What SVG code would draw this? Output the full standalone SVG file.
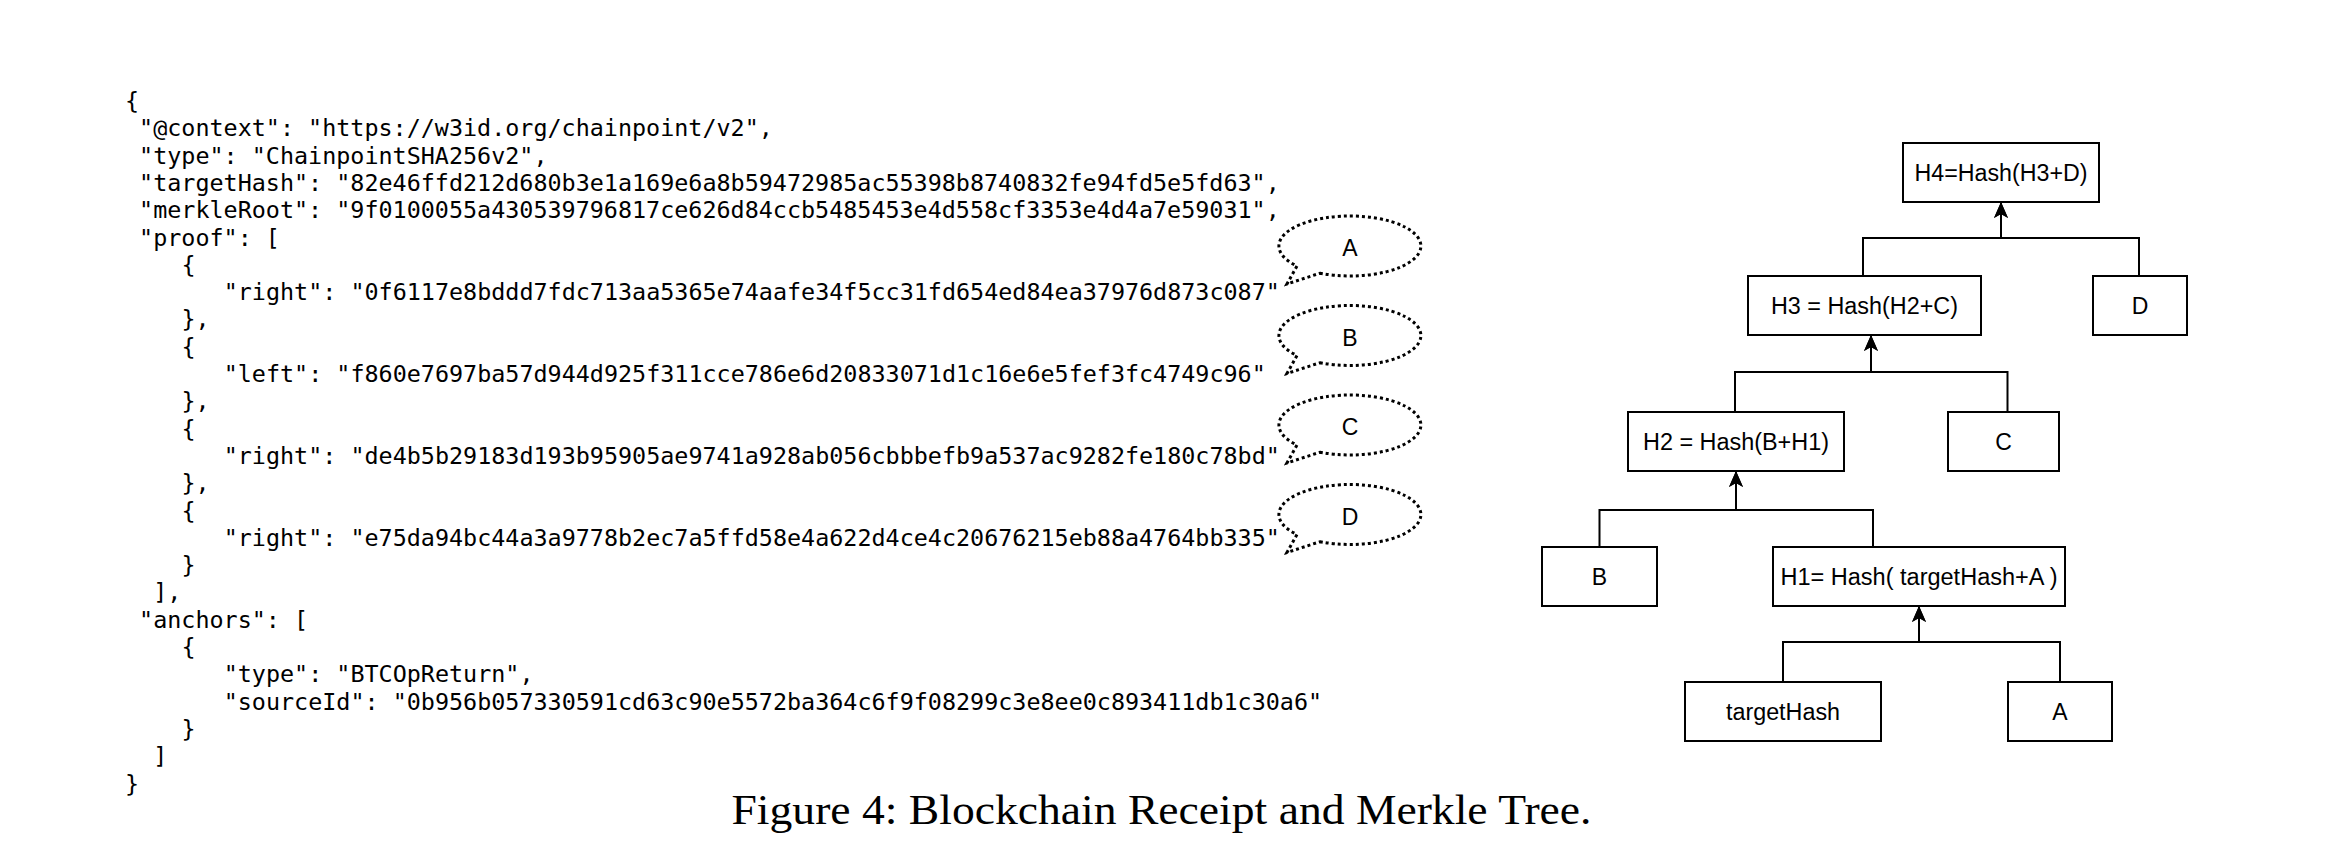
<svg xmlns="http://www.w3.org/2000/svg" width="2348" height="854" viewBox="0 0 2348 854">
<style>
.code{font-family:"DejaVu Sans Mono","Liberation Mono",monospace;font-size:23.4px;fill:#000}
.box{fill:#fff;stroke:#000;stroke-width:2}
.lbl{font-family:"Liberation Sans",Arial,sans-serif;font-size:23px;fill:#000;text-anchor:middle}
.edge{fill:none;stroke:#000;stroke-width:2}
.bubble{fill:#fff;stroke:#000;stroke-width:3;stroke-dasharray:3 3}
.cap{font-family:"Liberation Serif","Times New Roman",serif;font-size:43px;fill:#000}
</style>
<defs>
<marker id="arr" markerUnits="userSpaceOnUse" markerWidth="18" markerHeight="16" refX="16" refY="7" orient="auto">
<path d="M0,0 L16,7 L0,14 L4,7 z" fill="#000"/>
</marker>
</defs>
<rect width="2348" height="854" fill="#fff"/>

<g id="receipt" class="code">
<text x="125" y="109">{</text>
<text x="139.1" y="136.3">"@context": "https://w3id.org/chainpoint/v2",</text>
<text x="139.1" y="163.6">"type": "ChainpointSHA256v2",</text>
<text x="139.1" y="190.9">"targetHash": "82e46ffd212d680b3e1a169e6a8b59472985ac55398b8740832fe94fd5e5fd63",</text>
<text x="139.1" y="218.2">"merkleRoot": "9f0100055a430539796817ce626d84ccb5485453e4d558cf3353e4d4a7e59031",</text>
<text x="139.1" y="245.5">"proof": [</text>
<text x="181.4" y="272.8">{</text>
<text x="223.7" y="300.1">"right": "0f6117e8bddd7fdc713aa5365e74aafe34f5cc31fd654ed84ea37976d873c087"</text>
<text x="181.4" y="327.4">},</text>
<text x="181.4" y="354.7">{</text>
<text x="223.7" y="382">"left": "f860e7697ba57d944d925f311cce786e6d20833071d1c16e6e5fef3fc4749c96"</text>
<text x="181.4" y="409.3">},</text>
<text x="181.4" y="436.6">{</text>
<text x="223.7" y="463.9">"right": "de4b5b29183d193b95905ae9741a928ab056cbbbefb9a537ac9282fe180c78bd"</text>
<text x="181.4" y="491.2">},</text>
<text x="181.4" y="518.5">{</text>
<text x="223.7" y="545.8">"right": "e75da94bc44a3a9778b2ec7a5ffd58e4a622d4ce4c20676215eb88a4764bb335"</text>
<text x="181.4" y="573.1">}</text>
<text x="153.2" y="600.4">],</text>
<text x="139.1" y="627.7">"anchors": [</text>
<text x="181.4" y="655">{</text>
<text x="223.7" y="682.3">"type": "BTCOpReturn",</text>
<text x="223.7" y="709.6">"sourceId": "0b956b057330591cd63c90e5572ba364c6f9f08299c3e8ee0c893411db1c30a6"</text>
<text x="181.4" y="736.9">}</text>
<text x="153.2" y="764.2">]</text>
<text x="125" y="791.5">}</text>
</g>

<g id="bubble-A" transform="translate(1350,246)">
<path class="bubble" d="M-30,27.2 A71 30 0 1 0 -53,20 L-63,38 Z"/>
<text class="lbl" x="0" y="10">A</text>
</g>
<g id="bubble-B" transform="translate(1350,335.5)">
<path class="bubble" d="M-30,27.2 A71 30 0 1 0 -53,20 L-63,38 Z"/>
<text class="lbl" x="0" y="10">B</text>
</g>
<g id="bubble-C" transform="translate(1350,425)">
<path class="bubble" d="M-30,27.2 A71 30 0 1 0 -53,20 L-63,38 Z"/>
<text class="lbl" x="0" y="10">C</text>
</g>
<g id="bubble-D" transform="translate(1350,514.5)">
<path class="bubble" d="M-30,27.2 A71 30 0 1 0 -53,20 L-63,38 Z"/>
<text class="lbl" x="0" y="10">D</text>
</g>

<g id="connectors">
<path class="edge" d="M1783,682 V642 H1919 V606" marker-end="url(#arr)"/>
<path class="edge" d="M2060,682 V642 H1919 V606" marker-end="url(#arr)"/>
<path class="edge" d="M1599.5,547 V510 H1736 V471" marker-end="url(#arr)"/>
<path class="edge" d="M1873,547 V510 H1736 V471" marker-end="url(#arr)"/>
<path class="edge" d="M1735,412 V372 H1871 V335" marker-end="url(#arr)"/>
<path class="edge" d="M2007.5,412 V372 H1871 V335" marker-end="url(#arr)"/>
<path class="edge" d="M1863,276 V238 H2001 V202" marker-end="url(#arr)"/>
<path class="edge" d="M2139,276 V238 H2001 V202" marker-end="url(#arr)"/>
</g>

<g id="H4">
<rect class="box" x="1903" y="143" width="196" height="59"/>
<text class="lbl" x="2001" y="180.5" textLength="173" lengthAdjust="spacingAndGlyphs">H4=Hash(H3+D)</text>
</g>
<g id="H3">
<rect class="box" x="1748" y="276" width="233" height="59"/>
<text class="lbl" x="1864.5" y="313.5" textLength="187" lengthAdjust="spacingAndGlyphs">H3 = Hash(H2+C)</text>
</g>
<g id="D">
<rect class="box" x="2093" y="276" width="94" height="59"/>
<text class="lbl" x="2140" y="313.5">D</text>
</g>
<g id="H2">
<rect class="box" x="1628" y="412" width="216" height="59"/>
<text class="lbl" x="1736" y="449.5" textLength="186" lengthAdjust="spacingAndGlyphs">H2 = Hash(B+H1)</text>
</g>
<g id="C">
<rect class="box" x="1948" y="412" width="111" height="59"/>
<text class="lbl" x="2003.5" y="449.5">C</text>
</g>
<g id="B">
<rect class="box" x="1542" y="547" width="115" height="59"/>
<text class="lbl" x="1599.5" y="584.5">B</text>
</g>
<g id="H1">
<rect class="box" x="1773" y="547" width="292" height="59"/>
<text class="lbl" x="1919" y="584.5" textLength="277" lengthAdjust="spacingAndGlyphs">H1= Hash( targetHash+A )</text>
</g>
<g id="targetHash">
<rect class="box" x="1685" y="682" width="196" height="59"/>
<text class="lbl" x="1783" y="719.5" textLength="114" lengthAdjust="spacingAndGlyphs">targetHash</text>
</g>
<g id="A">
<rect class="box" x="2008" y="682" width="104" height="59"/>
<text class="lbl" x="2060" y="719.5">A</text>
</g>

<text id="caption" class="cap" x="731.5" y="823.5" textLength="860" lengthAdjust="spacingAndGlyphs">Figure 4: Blockchain Receipt and Merkle Tree.</text>
</svg>
